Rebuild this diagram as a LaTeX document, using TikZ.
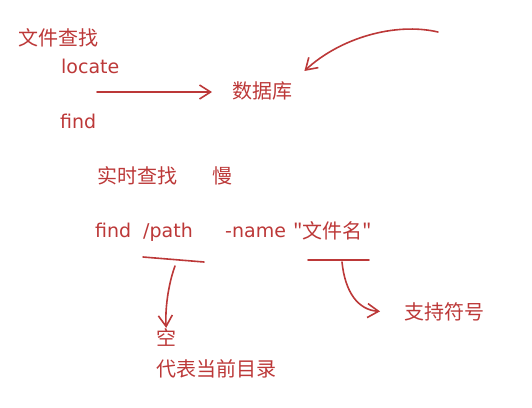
\documentclass[tikz,border=0pt]{standalone}
\usepackage{fontspec}
\setmainfont{DejaVu Sans}
\newfontfamily\cjkfont{Noto Sans CJK SC}
\usepackage{tikz}
\usetikzlibrary{arrows.meta,positioning,calc}
\definecolor{inkred}{RGB}{188,56,56}

\begin{document}
\begin{tikzpicture}[
    x=1pt, y=-1pt,
    zh/.style={text=inkred, font=\cjkfont\fontsize{20}{24}\selectfont, inner sep=0pt, anchor=base west},
    code/.style={text=inkred, font=\fontsize{19}{23}\selectfont, inner sep=0pt, anchor=base west},
    arr/.style={-{Straight Barb[length=11pt, width=14pt]}, draw=inkred, line width=1.6pt, line cap=round},
    uline/.style={draw=inkred, line width=1.6pt, line cap=round}
  ]
    \useasboundingbox (0,0) rectangle (532,407);
    \node[zh] (title) at (18,45) {文件查找};
    \node[code] (locate) at (61,73) {locate};
    \node[code] (find) at (60,128) {find};
    \node[zh] (db) at (232,98) {数据库};
    \node[zh] (realtime) at (97,183) {实时查找};
    \node[zh] (slow) at (212,183) {慢};
    \node[code] (cmd) at (95,237) {find};
    \node[code] (path) at (143,237) {/path};
    \node[code] (opt) at (225,237) {-name};
    \node[zh] (fname) at (293,238) {"文件名"};
    \node[zh] (sym) at (404,319) {支持符号};
    \node[zh] (empty) at (156,345) {空};
    \node[zh] (curdir) at (156,376) {代表当前目录};
    \coordinate (s1) at (97,92);
    \coordinate (s2) at (438,32);
    \coordinate (d1) at (175,266);
    \coordinate (d2) at (342,262);
    \draw[arr, shorten >=20pt] (s1) -- (s1 -| db.west);
    \draw[arr] (s2) .. controls (395,22) and (340,38) .. ($(db.north east)+(12,-10)$);
    \draw[uline] (143,257) -- (204,262);
    \draw[uline] (308,260) -- (369,260);
    \draw[arr] (d1) .. controls (168,285) and (165,310) .. (empty.north);
    \draw[arr] (d2) .. controls (345,292) and (358,310) .. ($(sym.west)+(-24,0)$);
  \end{tikzpicture}
\end{document}
